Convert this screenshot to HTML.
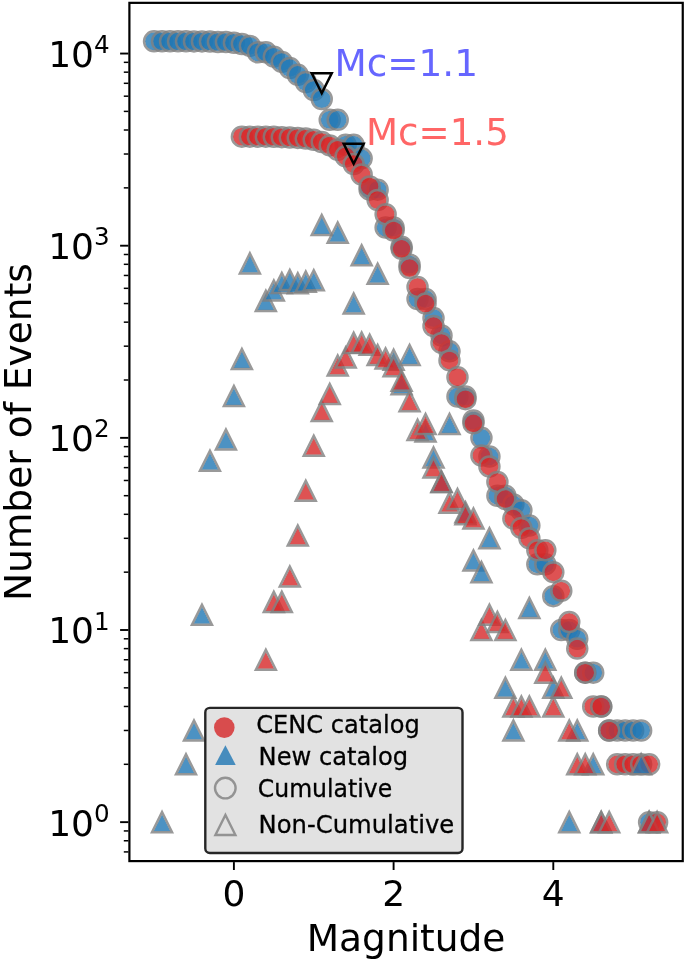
<!DOCTYPE html>
<html lang="en">
<head>
<meta charset="utf-8">
<title>Number of Events vs Magnitude</title>
<style>
html,body{margin:0;padding:0;background:#fff;}
svg{display:block;}
text{font-family:'DejaVu Sans', 'Liberation Sans', sans-serif;}
.lt{stroke:#000;stroke-width:0.3px;}
.b{fill:#1f77b4;fill-opacity:0.8;}
.r{fill:#d62728;fill-opacity:0.8;}
.e{fill:none;stroke:#808080;stroke-opacity:0.8;stroke-width:2.5px;stroke-linejoin:miter;}
</style>
</head>
<body>
<svg width="685" height="961" viewBox="0 0 685 961">
<rect width="685" height="961" fill="#fff"/>
<g id="markers">
<g id="new-cumulative">
<circle class="b" cx="154.05" cy="41.36" r="9.00"/><circle class="e" cx="154.05" cy="41.36" r="10.0"/>
<circle class="b" cx="162.04" cy="41.36" r="9.00"/><circle class="e" cx="162.04" cy="41.36" r="10.0"/>
<circle class="b" cx="170.02" cy="41.37" r="9.00"/><circle class="e" cx="170.02" cy="41.37" r="10.0"/>
<circle class="b" cx="178.00" cy="41.37" r="9.00"/><circle class="e" cx="178.00" cy="41.37" r="10.0"/>
<circle class="b" cx="185.99" cy="41.37" r="9.00"/><circle class="e" cx="185.99" cy="41.37" r="10.0"/>
<circle class="b" cx="193.98" cy="41.38" r="9.00"/><circle class="e" cx="193.98" cy="41.38" r="10.0"/>
<circle class="b" cx="201.96" cy="41.40" r="9.00"/><circle class="e" cx="201.96" cy="41.40" r="10.0"/>
<circle class="b" cx="209.94" cy="41.49" r="9.00"/><circle class="e" cx="209.94" cy="41.49" r="10.0"/>
<circle class="b" cx="217.93" cy="42.04" r="9.00"/><circle class="e" cx="217.93" cy="42.04" r="10.0"/>
<circle class="b" cx="225.92" cy="42.04" r="9.00"/><circle class="e" cx="225.92" cy="42.04" r="10.0"/>
<circle class="b" cx="233.90" cy="42.75" r="9.00"/><circle class="e" cx="233.90" cy="42.75" r="10.0"/>
<circle class="b" cx="241.88" cy="43.97" r="9.00"/><circle class="e" cx="241.88" cy="43.97" r="10.0"/>
<circle class="b" cx="249.87" cy="45.91" r="9.00"/><circle class="e" cx="249.87" cy="45.91" r="10.0"/>
<circle class="b" cx="257.86" cy="52.31" r="9.00"/><circle class="e" cx="257.86" cy="52.31" r="10.0"/>
<circle class="b" cx="265.84" cy="52.31" r="9.00"/><circle class="e" cx="265.84" cy="52.31" r="10.0"/>
<circle class="b" cx="273.82" cy="56.66" r="9.00"/><circle class="e" cx="273.82" cy="56.66" r="10.0"/>
<circle class="b" cx="281.81" cy="61.89" r="9.00"/><circle class="e" cx="281.81" cy="61.89" r="10.0"/>
<circle class="b" cx="289.80" cy="68.01" r="9.00"/><circle class="e" cx="289.80" cy="68.01" r="10.0"/>
<circle class="b" cx="297.78" cy="74.85" r="9.00"/><circle class="e" cx="297.78" cy="74.85" r="10.0"/>
<circle class="b" cx="305.76" cy="82.01" r="9.00"/><circle class="e" cx="305.76" cy="82.01" r="10.0"/>
<circle class="b" cx="313.75" cy="90.01" r="9.00"/><circle class="e" cx="313.75" cy="90.01" r="10.0"/>
<circle class="b" cx="321.74" cy="99.02" r="9.00"/><circle class="e" cx="321.74" cy="99.02" r="10.0"/>
<circle class="b" cx="329.72" cy="119.85" r="9.00"/><circle class="e" cx="329.72" cy="119.85" r="10.0"/>
<circle class="b" cx="337.70" cy="119.85" r="9.00"/><circle class="e" cx="337.70" cy="119.85" r="10.0"/>
<circle class="b" cx="345.69" cy="144.84" r="9.00"/><circle class="e" cx="345.69" cy="144.84" r="10.0"/>
<circle class="b" cx="353.68" cy="144.84" r="9.00"/><circle class="e" cx="353.68" cy="144.84" r="10.0"/>
<circle class="b" cx="361.66" cy="158.33" r="9.00"/><circle class="e" cx="361.66" cy="158.33" r="10.0"/>
<circle class="b" cx="369.64" cy="189.63" r="9.00"/><circle class="e" cx="369.64" cy="189.63" r="10.0"/>
<circle class="b" cx="377.63" cy="189.63" r="9.00"/><circle class="e" cx="377.63" cy="189.63" r="10.0"/>
<circle class="b" cx="385.62" cy="227.55" r="9.00"/><circle class="e" cx="385.62" cy="227.55" r="10.0"/>
<circle class="b" cx="393.60" cy="227.55" r="9.00"/><circle class="e" cx="393.60" cy="227.55" r="10.0"/>
<circle class="b" cx="401.59" cy="246.71" r="9.00"/><circle class="e" cx="401.59" cy="246.71" r="10.0"/>
<circle class="b" cx="409.57" cy="264.53" r="9.00"/><circle class="e" cx="409.57" cy="264.53" r="10.0"/>
<circle class="b" cx="417.55" cy="299.00" r="9.00"/><circle class="e" cx="417.55" cy="299.00" r="10.0"/>
<circle class="b" cx="425.54" cy="299.00" r="9.00"/><circle class="e" cx="425.54" cy="299.00" r="10.0"/>
<circle class="b" cx="433.52" cy="318.09" r="9.00"/><circle class="e" cx="433.52" cy="318.09" r="10.0"/>
<circle class="b" cx="441.51" cy="335.48" r="9.00"/><circle class="e" cx="441.51" cy="335.48" r="10.0"/>
<circle class="b" cx="449.50" cy="351.33" r="9.00"/><circle class="e" cx="449.50" cy="351.33" r="10.0"/>
<circle class="b" cx="457.48" cy="396.57" r="9.00"/><circle class="e" cx="457.48" cy="396.57" r="10.0"/>
<circle class="b" cx="465.46" cy="396.57" r="9.00"/><circle class="e" cx="465.46" cy="396.57" r="10.0"/>
<circle class="b" cx="473.45" cy="420.57" r="9.00"/><circle class="e" cx="473.45" cy="420.57" r="10.0"/>
<circle class="b" cx="481.44" cy="437.85" r="9.00"/><circle class="e" cx="481.44" cy="437.85" r="10.0"/>
<circle class="b" cx="489.42" cy="456.47" r="9.00"/><circle class="e" cx="489.42" cy="456.47" r="10.0"/>
<circle class="b" cx="497.40" cy="495.69" r="9.00"/><circle class="e" cx="497.40" cy="495.69" r="10.0"/>
<circle class="b" cx="505.39" cy="495.69" r="9.00"/><circle class="e" cx="505.39" cy="495.69" r="10.0"/>
<circle class="b" cx="513.38" cy="504.49" r="9.00"/><circle class="e" cx="513.38" cy="504.49" r="10.0"/>
<circle class="b" cx="521.36" cy="510.24" r="9.00"/><circle class="e" cx="521.36" cy="510.24" r="10.0"/>
<circle class="b" cx="529.35" cy="525.46" r="9.00"/><circle class="e" cx="529.35" cy="525.46" r="10.0"/>
<circle class="b" cx="537.33" cy="564.20" r="9.00"/><circle class="e" cx="537.33" cy="564.20" r="10.0"/>
<circle class="b" cx="545.31" cy="564.20" r="9.00"/><circle class="e" cx="545.31" cy="564.20" r="10.0"/>
<circle class="b" cx="553.30" cy="596.16" r="9.00"/><circle class="e" cx="553.30" cy="596.16" r="10.0"/>
<circle class="b" cx="561.28" cy="630.00" r="9.00"/><circle class="e" cx="561.28" cy="630.00" r="10.0"/>
<circle class="b" cx="569.27" cy="630.00" r="9.00"/><circle class="e" cx="569.27" cy="630.00" r="10.0"/>
<circle class="b" cx="577.25" cy="638.79" r="9.00"/><circle class="e" cx="577.25" cy="638.79" r="10.0"/>
<circle class="b" cx="585.24" cy="672.63" r="9.00"/><circle class="e" cx="585.24" cy="672.63" r="10.0"/>
<circle class="b" cx="593.23" cy="672.63" r="9.00"/><circle class="e" cx="593.23" cy="672.63" r="10.0"/>
<circle class="b" cx="601.21" cy="706.46" r="9.00"/><circle class="e" cx="601.21" cy="706.46" r="10.0"/>
<circle class="b" cx="609.19" cy="730.47" r="9.00"/><circle class="e" cx="609.19" cy="730.47" r="10.0"/>
<circle class="b" cx="617.18" cy="730.47" r="9.00"/><circle class="e" cx="617.18" cy="730.47" r="10.0"/>
<circle class="b" cx="625.16" cy="730.47" r="9.00"/><circle class="e" cx="625.16" cy="730.47" r="10.0"/>
<circle class="b" cx="633.15" cy="730.47" r="9.00"/><circle class="e" cx="633.15" cy="730.47" r="10.0"/>
<circle class="b" cx="641.13" cy="730.47" r="9.00"/><circle class="e" cx="641.13" cy="730.47" r="10.0"/>
<circle class="b" cx="649.12" cy="822.15" r="9.00"/><circle class="e" cx="649.12" cy="822.15" r="10.0"/>
</g>
<g id="cenc-cumulative">
<circle class="r" cx="241.88" cy="136.66" r="9.00"/><circle class="e" cx="241.88" cy="136.66" r="10.0"/>
<circle class="r" cx="249.87" cy="136.66" r="9.00"/><circle class="e" cx="249.87" cy="136.66" r="10.0"/>
<circle class="r" cx="257.86" cy="136.66" r="9.00"/><circle class="e" cx="257.86" cy="136.66" r="10.0"/>
<circle class="r" cx="265.84" cy="136.66" r="9.00"/><circle class="e" cx="265.84" cy="136.66" r="10.0"/>
<circle class="r" cx="273.82" cy="136.81" r="9.00"/><circle class="e" cx="273.82" cy="136.81" r="10.0"/>
<circle class="r" cx="281.81" cy="137.13" r="9.00"/><circle class="e" cx="281.81" cy="137.13" r="10.0"/>
<circle class="r" cx="289.80" cy="137.45" r="9.00"/><circle class="e" cx="289.80" cy="137.45" r="10.0"/>
<circle class="r" cx="297.78" cy="137.88" r="9.00"/><circle class="e" cx="297.78" cy="137.88" r="10.0"/>
<circle class="r" cx="305.76" cy="138.60" r="9.00"/><circle class="e" cx="305.76" cy="138.60" r="10.0"/>
<circle class="r" cx="313.75" cy="139.83" r="9.00"/><circle class="e" cx="313.75" cy="139.83" r="10.0"/>
<circle class="r" cx="321.74" cy="142.00" r="9.00"/><circle class="e" cx="321.74" cy="142.00" r="10.0"/>
<circle class="r" cx="329.72" cy="145.39" r="9.00"/><circle class="e" cx="329.72" cy="145.39" r="10.0"/>
<circle class="r" cx="337.70" cy="149.74" r="9.00"/><circle class="e" cx="337.70" cy="149.74" r="10.0"/>
<circle class="r" cx="345.69" cy="156.28" r="9.00"/><circle class="e" cx="345.69" cy="156.28" r="10.0"/>
<circle class="r" cx="353.68" cy="164.12" r="9.00"/><circle class="e" cx="353.68" cy="164.12" r="10.0"/>
<circle class="r" cx="361.66" cy="174.54" r="9.00"/><circle class="e" cx="361.66" cy="174.54" r="10.0"/>
<circle class="r" cx="369.64" cy="186.49" r="9.00"/><circle class="e" cx="369.64" cy="186.49" r="10.0"/>
<circle class="r" cx="377.63" cy="200.06" r="9.00"/><circle class="e" cx="377.63" cy="200.06" r="10.0"/>
<circle class="r" cx="385.62" cy="214.23" r="9.00"/><circle class="e" cx="385.62" cy="214.23" r="10.0"/>
<circle class="r" cx="393.60" cy="230.55" r="9.00"/><circle class="e" cx="393.60" cy="230.55" r="10.0"/>
<circle class="r" cx="401.59" cy="248.85" r="9.00"/><circle class="e" cx="401.59" cy="248.85" r="10.0"/>
<circle class="r" cx="409.57" cy="268.05" r="9.00"/><circle class="e" cx="409.57" cy="268.05" r="10.0"/>
<circle class="r" cx="417.55" cy="286.95" r="9.00"/><circle class="e" cx="417.55" cy="286.95" r="10.0"/>
<circle class="r" cx="425.54" cy="303.54" r="9.00"/><circle class="e" cx="425.54" cy="303.54" r="10.0"/>
<circle class="r" cx="433.52" cy="326.01" r="9.00"/><circle class="e" cx="433.52" cy="326.01" r="10.0"/>
<circle class="r" cx="441.51" cy="342.90" r="9.00"/><circle class="e" cx="441.51" cy="342.90" r="10.0"/>
<circle class="r" cx="449.50" cy="360.39" r="9.00"/><circle class="e" cx="449.50" cy="360.39" r="10.0"/>
<circle class="r" cx="457.48" cy="377.14" r="9.00"/><circle class="e" cx="457.48" cy="377.14" r="10.0"/>
<circle class="r" cx="465.46" cy="399.15" r="9.00"/><circle class="e" cx="465.46" cy="399.15" r="10.0"/>
<circle class="r" cx="473.45" cy="423.33" r="9.00"/><circle class="e" cx="473.45" cy="423.33" r="10.0"/>
<circle class="r" cx="481.44" cy="455.43" r="9.00"/><circle class="e" cx="481.44" cy="455.43" r="10.0"/>
<circle class="r" cx="489.42" cy="466.43" r="9.00"/><circle class="e" cx="489.42" cy="466.43" r="10.0"/>
<circle class="r" cx="497.40" cy="481.88" r="9.00"/><circle class="e" cx="497.40" cy="481.88" r="10.0"/>
<circle class="r" cx="505.39" cy="499.10" r="9.00"/><circle class="e" cx="505.39" cy="499.10" r="10.0"/>
<circle class="r" cx="513.38" cy="518.59" r="9.00"/><circle class="e" cx="513.38" cy="518.59" r="10.0"/>
<circle class="r" cx="521.36" cy="527.88" r="9.00"/><circle class="e" cx="521.36" cy="527.88" r="10.0"/>
<circle class="r" cx="529.35" cy="538.32" r="9.00"/><circle class="e" cx="529.35" cy="538.32" r="10.0"/>
<circle class="r" cx="537.33" cy="550.26" r="9.00"/><circle class="e" cx="537.33" cy="550.26" r="10.0"/>
<circle class="r" cx="545.31" cy="550.26" r="9.00"/><circle class="e" cx="545.31" cy="550.26" r="10.0"/>
<circle class="r" cx="553.30" cy="572.16" r="9.00"/><circle class="e" cx="553.30" cy="572.16" r="10.0"/>
<circle class="r" cx="561.28" cy="590.78" r="9.00"/><circle class="e" cx="561.28" cy="590.78" r="10.0"/>
<circle class="r" cx="569.27" cy="622.05" r="9.00"/><circle class="e" cx="569.27" cy="622.05" r="10.0"/>
<circle class="r" cx="577.25" cy="648.62" r="9.00"/><circle class="e" cx="577.25" cy="648.62" r="10.0"/>
<circle class="r" cx="585.24" cy="672.63" r="9.00"/><circle class="e" cx="585.24" cy="672.63" r="10.0"/>
<circle class="r" cx="593.23" cy="706.46" r="9.00"/><circle class="e" cx="593.23" cy="706.46" r="10.0"/>
<circle class="r" cx="601.21" cy="706.46" r="9.00"/><circle class="e" cx="601.21" cy="706.46" r="10.0"/>
<circle class="r" cx="609.19" cy="730.47" r="9.00"/><circle class="e" cx="609.19" cy="730.47" r="10.0"/>
<circle class="r" cx="617.18" cy="764.31" r="9.00"/><circle class="e" cx="617.18" cy="764.31" r="10.0"/>
<circle class="r" cx="625.16" cy="764.31" r="9.00"/><circle class="e" cx="625.16" cy="764.31" r="10.0"/>
<circle class="r" cx="633.15" cy="764.31" r="9.00"/><circle class="e" cx="633.15" cy="764.31" r="10.0"/>
<circle class="r" cx="641.13" cy="764.31" r="9.00"/><circle class="e" cx="641.13" cy="764.31" r="10.0"/>
<circle class="r" cx="649.12" cy="764.31" r="9.00"/><circle class="e" cx="649.12" cy="764.31" r="10.0"/>
<circle class="r" cx="657.11" cy="822.15" r="9.00"/><circle class="e" cx="657.11" cy="822.15" r="10.0"/>
</g>
<g id="new-noncumulative">
<path class="b" d="M162.04 814.39L153.65 831.15L170.42 831.15Z"/><path class="e" d="M162.04 812.15L152.04 832.15L172.04 832.15Z"/>
<path class="b" d="M185.99 756.54L177.61 773.31L194.37 773.31Z"/><path class="e" d="M185.99 754.31L175.99 774.31L195.99 774.31Z"/>
<path class="b" d="M193.98 722.71L185.59 739.47L202.36 739.47Z"/><path class="e" d="M193.98 720.47L183.98 740.47L203.98 740.47Z"/>
<path class="b" d="M201.96 607.02L193.58 623.79L210.34 623.79Z"/><path class="e" d="M201.96 604.79L191.96 624.79L211.96 624.79Z"/>
<path class="b" d="M209.94 452.99L201.56 469.75L218.33 469.75Z"/><path class="e" d="M209.94 450.75L199.94 470.75L219.94 470.75Z"/>
<path class="b" d="M225.92 431.77L217.53 448.54L234.30 448.54Z"/><path class="e" d="M225.92 429.54L215.92 449.54L235.92 449.54Z"/>
<path class="b" d="M233.90 388.30L225.52 405.06L242.28 405.06Z"/><path class="e" d="M233.90 386.06L223.90 406.06L243.90 406.06Z"/>
<path class="b" d="M241.88 351.32L233.50 368.08L250.27 368.08Z"/><path class="e" d="M241.88 349.08L231.88 369.08L251.88 369.08Z"/>
<path class="b" d="M249.87 255.62L241.49 272.39L258.25 272.39Z"/><path class="e" d="M249.87 253.39L239.87 273.39L259.87 273.39Z"/>
<path class="b" d="M265.84 293.15L257.46 309.91L274.22 309.91Z"/><path class="e" d="M265.84 290.91L255.84 310.91L275.84 310.91Z"/>
<path class="b" d="M273.82 282.68L265.44 299.44L282.21 299.44Z"/><path class="e" d="M273.82 280.44L263.82 300.44L283.82 300.44Z"/>
<path class="b" d="M281.81 275.18L273.43 291.94L290.19 291.94Z"/><path class="e" d="M281.81 272.94L271.81 292.94L291.81 292.94Z"/>
<path class="b" d="M289.80 272.36L281.41 289.12L298.18 289.12Z"/><path class="e" d="M289.80 270.12L279.80 290.12L299.80 290.12Z"/>
<path class="b" d="M297.78 275.57L289.40 292.33L306.16 292.33Z"/><path class="e" d="M297.78 273.33L287.78 293.33L307.78 293.33Z"/>
<path class="b" d="M305.76 273.88L297.38 290.65L314.15 290.65Z"/><path class="e" d="M305.76 271.65L295.76 291.65L315.76 291.65Z"/>
<path class="b" d="M313.75 272.48L305.37 289.25L322.13 289.25Z"/><path class="e" d="M313.75 270.25L303.75 290.25L323.75 290.25Z"/>
<path class="b" d="M321.74 217.27L313.35 234.03L330.12 234.03Z"/><path class="e" d="M321.74 215.03L311.74 235.03L331.74 235.03Z"/>
<path class="b" d="M337.70 224.91L329.32 241.67L346.09 241.67Z"/><path class="e" d="M337.70 222.67L327.70 242.67L347.70 242.67Z"/>
<path class="b" d="M353.68 295.78L345.29 312.54L362.06 312.54Z"/><path class="e" d="M353.68 293.54L343.68 313.54L363.68 313.54Z"/>
<path class="b" d="M361.66 247.57L353.28 264.33L370.04 264.33Z"/><path class="e" d="M361.66 245.33L351.66 265.33L371.66 265.33Z"/>
<path class="b" d="M377.63 265.93L369.25 282.70L386.01 282.70Z"/><path class="e" d="M377.63 263.70L367.63 283.70L387.63 283.70Z"/>
<path class="b" d="M393.60 351.97L385.22 368.73L401.98 368.73Z"/><path class="e" d="M393.60 349.73L383.60 369.73L403.60 369.73Z"/>
<path class="b" d="M401.59 376.52L393.20 393.29L409.97 393.29Z"/><path class="e" d="M401.59 374.29L391.59 394.29L411.59 394.29Z"/>
<path class="b" d="M409.57 347.20L401.19 363.96L417.95 363.96Z"/><path class="e" d="M409.57 344.96L399.57 364.96L419.57 364.96Z"/>
<path class="b" d="M425.54 423.66L417.16 440.43L433.92 440.43Z"/><path class="e" d="M425.54 421.43L415.54 441.43L435.54 441.43Z"/>
<path class="b" d="M433.52 449.76L425.14 466.52L441.91 466.52Z"/><path class="e" d="M433.52 447.52L423.52 467.52L443.52 467.52Z"/>
<path class="b" d="M441.51 474.12L433.13 490.88L449.89 490.88Z"/><path class="e" d="M441.51 471.88L431.51 491.88L451.51 491.88Z"/>
<path class="b" d="M449.50 416.27L441.11 433.04L457.88 433.04Z"/><path class="e" d="M449.50 414.04L439.50 434.04L459.50 434.04Z"/>
<path class="b" d="M465.46 504.49L457.08 521.25L473.85 521.25Z"/><path class="e" d="M465.46 502.25L455.46 522.25L475.46 522.25Z"/>
<path class="b" d="M473.45 552.73L465.07 569.49L481.83 569.49Z"/><path class="e" d="M473.45 550.49L463.45 570.49L483.45 570.49Z"/>
<path class="b" d="M481.44 564.39L473.05 581.16L489.82 581.16Z"/><path class="e" d="M481.44 562.16L471.44 582.16L491.44 582.16Z"/>
<path class="b" d="M489.42 530.56L481.04 547.32L497.80 547.32Z"/><path class="e" d="M489.42 528.32L479.42 548.32L499.42 548.32Z"/>
<path class="b" d="M505.39 680.08L497.01 696.84L513.77 696.84Z"/><path class="e" d="M505.39 677.84L495.39 697.84L515.39 697.84Z"/>
<path class="b" d="M513.38 722.71L504.99 739.47L521.76 739.47Z"/><path class="e" d="M513.38 720.47L503.38 740.47L523.38 740.47Z"/>
<path class="b" d="M521.36 652.00L512.98 668.76L529.74 668.76Z"/><path class="e" d="M521.36 649.76L511.36 669.76L531.36 669.76Z"/>
<path class="b" d="M529.35 600.34L520.96 617.11L537.73 617.11Z"/><path class="e" d="M529.35 598.11L519.35 618.11L539.35 618.11Z"/>
<path class="b" d="M545.31 652.00L536.93 668.76L553.70 668.76Z"/><path class="e" d="M545.31 649.76L535.31 669.76L555.31 669.76Z"/>
<path class="b" d="M553.30 680.08L544.92 696.84L561.68 696.84Z"/><path class="e" d="M553.30 677.84L543.30 697.84L563.30 697.84Z"/>
<path class="b" d="M569.27 814.39L560.89 831.15L577.65 831.15Z"/><path class="e" d="M569.27 812.15L559.27 832.15L579.27 832.15Z"/>
<path class="b" d="M577.25 722.71L568.87 739.47L585.64 739.47Z"/><path class="e" d="M577.25 720.47L567.25 740.47L587.25 740.47Z"/>
<path class="b" d="M593.23 756.54L584.84 773.31L601.61 773.31Z"/><path class="e" d="M593.23 754.31L583.23 774.31L603.23 774.31Z"/>
<path class="b" d="M601.21 814.39L592.83 831.15L609.59 831.15Z"/><path class="e" d="M601.21 812.15L591.21 832.15L611.21 832.15Z"/>
<path class="b" d="M641.13 756.54L632.75 773.31L649.52 773.31Z"/><path class="e" d="M641.13 754.31L631.13 774.31L651.13 774.31Z"/>
<path class="b" d="M649.12 814.39L640.74 831.15L657.50 831.15Z"/><path class="e" d="M649.12 812.15L639.12 832.15L659.12 832.15Z"/>
</g>
<g id="cenc-noncumulative">
<path class="r" d="M265.84 652.00L257.46 668.76L274.22 668.76Z"/><path class="e" d="M265.84 649.76L255.84 669.76L275.84 669.76Z"/>
<path class="r" d="M273.82 594.16L265.44 610.92L282.21 610.92Z"/><path class="e" d="M273.82 591.92L263.82 611.92L283.82 611.92Z"/>
<path class="r" d="M281.81 594.16L273.43 610.92L290.19 610.92Z"/><path class="e" d="M281.81 591.92L271.81 611.92L291.81 611.92Z"/>
<path class="r" d="M289.80 568.67L281.41 585.44L298.18 585.44Z"/><path class="e" d="M289.80 566.44L279.80 586.44L299.80 586.44Z"/>
<path class="r" d="M297.78 527.82L289.40 544.58L306.16 544.58Z"/><path class="e" d="M297.78 525.58L287.78 545.58L307.78 545.58Z"/>
<path class="r" d="M305.76 483.07L297.38 499.83L314.15 499.83Z"/><path class="e" d="M305.76 480.83L295.76 500.83L315.76 500.83Z"/>
<path class="r" d="M313.75 437.96L305.37 454.72L322.13 454.72Z"/><path class="e" d="M313.75 435.72L303.75 455.72L323.75 455.72Z"/>
<path class="r" d="M321.74 403.21L313.35 419.97L330.12 419.97Z"/><path class="e" d="M321.74 400.97L311.74 420.97L331.74 420.97Z"/>
<path class="r" d="M329.72 386.30L321.34 403.06L338.10 403.06Z"/><path class="e" d="M329.72 384.06L319.72 404.06L339.72 404.06Z"/>
<path class="r" d="M337.70 357.73L329.32 374.49L346.09 374.49Z"/><path class="e" d="M337.70 355.49L327.70 375.49L347.70 375.49Z"/>
<path class="r" d="M345.69 349.71L337.31 366.47L354.07 366.47Z"/><path class="e" d="M345.69 347.47L335.69 367.47L355.69 367.47Z"/>
<path class="r" d="M353.68 335.13L345.29 351.90L362.06 351.90Z"/><path class="e" d="M353.68 332.90L343.68 352.90L363.68 352.90Z"/>
<path class="r" d="M361.66 334.87L353.28 351.63L370.04 351.63Z"/><path class="e" d="M361.66 332.63L351.66 352.63L371.66 352.63Z"/>
<path class="r" d="M369.64 337.03L361.26 353.79L378.03 353.79Z"/><path class="e" d="M369.64 334.79L359.64 354.79L379.64 354.79Z"/>
<path class="r" d="M377.63 347.20L369.25 363.96L386.01 363.96Z"/><path class="e" d="M377.63 344.96L367.63 364.96L387.63 364.96Z"/>
<path class="r" d="M385.62 350.67L377.23 367.43L394.00 367.43Z"/><path class="e" d="M385.62 348.43L375.62 368.43L395.62 368.43Z"/>
<path class="r" d="M393.60 358.43L385.22 375.19L401.98 375.19Z"/><path class="e" d="M393.60 356.19L383.60 376.19L403.60 376.19Z"/>
<path class="r" d="M401.59 373.08L393.20 389.85L409.97 389.85Z"/><path class="e" d="M401.59 370.85L391.59 390.85L411.59 390.85Z"/>
<path class="r" d="M409.57 393.51L401.19 410.28L417.95 410.28Z"/><path class="e" d="M409.57 391.28L399.57 411.28L419.57 411.28Z"/>
<path class="r" d="M417.55 422.13L409.17 438.90L425.94 438.90Z"/><path class="e" d="M417.55 419.90L407.55 439.90L427.55 439.90Z"/>
<path class="r" d="M425.54 416.27L417.16 433.04L433.92 433.04Z"/><path class="e" d="M425.54 414.04L415.54 434.04L435.54 434.04Z"/>
<path class="r" d="M433.52 459.85L425.14 476.61L441.91 476.61Z"/><path class="e" d="M433.52 457.61L423.52 477.61L443.52 477.61Z"/>
<path class="r" d="M441.51 474.12L433.13 490.88L449.89 490.88Z"/><path class="e" d="M441.51 471.88L431.51 491.88L451.51 491.88Z"/>
<path class="r" d="M449.50 494.89L441.11 511.65L457.88 511.65Z"/><path class="e" d="M449.50 492.65L439.50 512.65L459.50 512.65Z"/>
<path class="r" d="M457.48 491.34L449.10 508.10L465.86 508.10Z"/><path class="e" d="M457.48 489.10L447.48 509.10L467.48 509.10Z"/>
<path class="r" d="M465.46 506.55L457.08 523.31L473.85 523.31Z"/><path class="e" d="M465.46 504.31L455.46 524.31L475.46 524.31Z"/>
<path class="r" d="M473.45 510.83L465.07 527.59L481.83 527.59Z"/><path class="e" d="M473.45 508.59L463.45 528.59L483.45 528.59Z"/>
<path class="r" d="M481.44 622.24L473.05 639.00L489.82 639.00Z"/><path class="e" d="M481.44 620.00L471.44 640.00L491.44 640.00Z"/>
<path class="r" d="M489.42 607.02L481.04 623.79L497.80 623.79Z"/><path class="e" d="M489.42 604.79L479.42 624.79L499.42 624.79Z"/>
<path class="r" d="M497.40 614.28L489.02 631.05L505.79 631.05Z"/><path class="e" d="M497.40 612.05L487.40 632.05L507.40 632.05Z"/>
<path class="r" d="M505.39 622.24L497.01 639.00L513.77 639.00Z"/><path class="e" d="M505.39 620.00L495.39 640.00L515.39 640.00Z"/>
<path class="r" d="M513.38 698.70L504.99 715.46L521.76 715.46Z"/><path class="e" d="M513.38 696.46L503.38 716.46L523.38 716.46Z"/>
<path class="r" d="M521.36 698.70L512.98 715.46L529.74 715.46Z"/><path class="e" d="M521.36 696.46L511.36 716.46L531.36 716.46Z"/>
<path class="r" d="M529.35 698.70L520.96 715.46L537.73 715.46Z"/><path class="e" d="M529.35 696.46L519.35 716.46L539.35 716.46Z"/>
<path class="r" d="M545.31 664.86L536.93 681.63L553.70 681.63Z"/><path class="e" d="M545.31 662.63L535.31 682.63L555.31 682.63Z"/>
<path class="r" d="M553.30 698.70L544.92 715.46L561.68 715.46Z"/><path class="e" d="M553.30 696.46L543.30 716.46L563.30 716.46Z"/>
<path class="r" d="M561.28 680.08L552.90 696.84L569.67 696.84Z"/><path class="e" d="M561.28 677.84L551.28 697.84L571.28 697.84Z"/>
<path class="r" d="M569.27 722.71L560.89 739.47L577.65 739.47Z"/><path class="e" d="M569.27 720.47L559.27 740.47L579.27 740.47Z"/>
<path class="r" d="M577.25 756.54L568.87 773.31L585.64 773.31Z"/><path class="e" d="M577.25 754.31L567.25 774.31L587.25 774.31Z"/>
<path class="r" d="M585.24 756.54L576.86 773.31L593.62 773.31Z"/><path class="e" d="M585.24 754.31L575.24 774.31L595.24 774.31Z"/>
<path class="r" d="M601.21 814.39L592.83 831.15L609.59 831.15Z"/><path class="e" d="M601.21 812.15L591.21 832.15L611.21 832.15Z"/>
<path class="r" d="M609.19 814.39L600.81 831.15L617.58 831.15Z"/><path class="e" d="M609.19 812.15L599.19 832.15L619.19 832.15Z"/>
<path class="r" d="M649.12 814.39L640.74 831.15L657.50 831.15Z"/><path class="e" d="M649.12 812.15L639.12 832.15L659.12 832.15Z"/>
<path class="r" d="M657.11 814.39L648.72 831.15L665.49 831.15Z"/><path class="e" d="M657.11 812.15L647.11 832.15L667.11 832.15Z"/>
</g>
<path d="M321.74 93.20L311.74 73.20L331.74 73.20Z" fill="none" stroke="#000" stroke-width="2.5" stroke-linejoin="miter"/>
<path d="M353.68 163.70L343.68 143.70L363.68 143.70Z" fill="none" stroke="#000" stroke-width="2.5" stroke-linejoin="miter"/>
</g>
<g id="axes">
<rect x="129.4" y="2.85" width="553.35" height="858.25" fill="none" stroke="#000" stroke-width="2.2"/>
<line x1="120.10" x2="128.40" y1="822.15" y2="822.15" stroke="#000" stroke-width="1.9"/>
<line x1="120.10" x2="128.40" y1="630.00" y2="630.00" stroke="#000" stroke-width="1.9"/>
<line x1="120.10" x2="128.40" y1="437.85" y2="437.85" stroke="#000" stroke-width="1.9"/>
<line x1="120.10" x2="128.40" y1="245.70" y2="245.70" stroke="#000" stroke-width="1.9"/>
<line x1="120.10" x2="128.40" y1="53.55" y2="53.55" stroke="#000" stroke-width="1.9"/>
<line x1="123.80" x2="128.40" y1="851.91" y2="851.91" stroke="#000" stroke-width="1.5"/>
<line x1="123.80" x2="128.40" y1="840.77" y2="840.77" stroke="#000" stroke-width="1.5"/>
<line x1="123.80" x2="128.40" y1="830.94" y2="830.94" stroke="#000" stroke-width="1.5"/>
<line x1="123.80" x2="128.40" y1="764.31" y2="764.31" stroke="#000" stroke-width="1.5"/>
<line x1="123.80" x2="128.40" y1="730.47" y2="730.47" stroke="#000" stroke-width="1.5"/>
<line x1="123.80" x2="128.40" y1="706.46" y2="706.46" stroke="#000" stroke-width="1.5"/>
<line x1="123.80" x2="128.40" y1="687.84" y2="687.84" stroke="#000" stroke-width="1.5"/>
<line x1="123.80" x2="128.40" y1="672.63" y2="672.63" stroke="#000" stroke-width="1.5"/>
<line x1="123.80" x2="128.40" y1="659.76" y2="659.76" stroke="#000" stroke-width="1.5"/>
<line x1="123.80" x2="128.40" y1="648.62" y2="648.62" stroke="#000" stroke-width="1.5"/>
<line x1="123.80" x2="128.40" y1="638.79" y2="638.79" stroke="#000" stroke-width="1.5"/>
<line x1="123.80" x2="128.40" y1="572.16" y2="572.16" stroke="#000" stroke-width="1.5"/>
<line x1="123.80" x2="128.40" y1="538.32" y2="538.32" stroke="#000" stroke-width="1.5"/>
<line x1="123.80" x2="128.40" y1="514.31" y2="514.31" stroke="#000" stroke-width="1.5"/>
<line x1="123.80" x2="128.40" y1="495.69" y2="495.69" stroke="#000" stroke-width="1.5"/>
<line x1="123.80" x2="128.40" y1="480.48" y2="480.48" stroke="#000" stroke-width="1.5"/>
<line x1="123.80" x2="128.40" y1="467.61" y2="467.61" stroke="#000" stroke-width="1.5"/>
<line x1="123.80" x2="128.40" y1="456.47" y2="456.47" stroke="#000" stroke-width="1.5"/>
<line x1="123.80" x2="128.40" y1="446.64" y2="446.64" stroke="#000" stroke-width="1.5"/>
<line x1="123.80" x2="128.40" y1="380.01" y2="380.01" stroke="#000" stroke-width="1.5"/>
<line x1="123.80" x2="128.40" y1="346.17" y2="346.17" stroke="#000" stroke-width="1.5"/>
<line x1="123.80" x2="128.40" y1="322.16" y2="322.16" stroke="#000" stroke-width="1.5"/>
<line x1="123.80" x2="128.40" y1="303.54" y2="303.54" stroke="#000" stroke-width="1.5"/>
<line x1="123.80" x2="128.40" y1="288.33" y2="288.33" stroke="#000" stroke-width="1.5"/>
<line x1="123.80" x2="128.40" y1="275.46" y2="275.46" stroke="#000" stroke-width="1.5"/>
<line x1="123.80" x2="128.40" y1="264.32" y2="264.32" stroke="#000" stroke-width="1.5"/>
<line x1="123.80" x2="128.40" y1="254.49" y2="254.49" stroke="#000" stroke-width="1.5"/>
<line x1="123.80" x2="128.40" y1="187.86" y2="187.86" stroke="#000" stroke-width="1.5"/>
<line x1="123.80" x2="128.40" y1="154.02" y2="154.02" stroke="#000" stroke-width="1.5"/>
<line x1="123.80" x2="128.40" y1="130.01" y2="130.01" stroke="#000" stroke-width="1.5"/>
<line x1="123.80" x2="128.40" y1="111.39" y2="111.39" stroke="#000" stroke-width="1.5"/>
<line x1="123.80" x2="128.40" y1="96.18" y2="96.18" stroke="#000" stroke-width="1.5"/>
<line x1="123.80" x2="128.40" y1="83.31" y2="83.31" stroke="#000" stroke-width="1.5"/>
<line x1="123.80" x2="128.40" y1="72.17" y2="72.17" stroke="#000" stroke-width="1.5"/>
<line x1="123.80" x2="128.40" y1="62.34" y2="62.34" stroke="#000" stroke-width="1.5"/>
<line x1="233.90" x2="233.90" y1="862.10" y2="870.00" stroke="#000" stroke-width="1.9"/>
<line x1="393.60" x2="393.60" y1="862.10" y2="870.00" stroke="#000" stroke-width="1.9"/>
<line x1="553.30" x2="553.30" y1="862.10" y2="870.00" stroke="#000" stroke-width="1.9"/>
</g>
<g id="labels">
<text x="48.2" y="835.55" font-size="36.0">10</text>
<text x="94.0" y="821.65" font-size="24.6">0</text>
<text x="48.2" y="643.40" font-size="36.0">10</text>
<text x="94.0" y="629.50" font-size="24.6">1</text>
<text x="48.2" y="451.25" font-size="36.0">10</text>
<text x="94.0" y="437.35" font-size="24.6">2</text>
<text x="48.2" y="259.10" font-size="36.0">10</text>
<text x="94.0" y="245.20" font-size="24.6">3</text>
<text x="48.2" y="66.95" font-size="36.0">10</text>
<text x="94.0" y="53.05" font-size="24.6">4</text>
<text x="233.90" y="906.1" font-size="36.0" text-anchor="middle">0</text>
<text x="393.60" y="906.1" font-size="36.0" text-anchor="middle">2</text>
<text x="553.30" y="906.1" font-size="36.0" text-anchor="middle">4</text>
<text x="406.1" y="951.1" font-size="37.5" text-anchor="middle">Magnitude</text>
<text transform="translate(30.8 432.1) rotate(-90)" font-size="37.55" text-anchor="middle">Number of Events</text>
<text x="334.4" y="75.8" font-size="37.4" style="fill:#6666ff">Mc=1.1</text>
<text x="366.0" y="145.3" font-size="37.2" style="fill:#ff6666">Mc=1.5</text>
</g>
<g id="legend">
<rect x="205.3" y="707.9" width="257.2" height="145.1" rx="4.5" ry="4.5" fill="#e2e2e2" stroke="#262626" stroke-width="2.4"/>
<circle cx="224.3" cy="727.6" r="10.3" fill="#d62728" fill-opacity="0.8"/>
<path d="M225.4 745.2L215.1 764.9L235.7 764.9Z" fill="#1f77b4" fill-opacity="0.8"/>
<circle cx="225.3" cy="788.1" r="10.3" fill="none" stroke="#808080" stroke-opacity="0.8" stroke-width="2.4"/>
<path d="M225.4 815.0L215.4 835.0L235.4 835.0Z" fill="none" stroke="#808080" stroke-opacity="0.8" stroke-width="2.4" stroke-linejoin="miter"/>
<text class="lt" x="256.3" y="733.2" font-size="24" textLength="163.5" lengthAdjust="spacingAndGlyphs">CENC catalog</text>
<text class="lt" x="258.6" y="764.6" font-size="24" textLength="149.6" lengthAdjust="spacingAndGlyphs">New catalog</text>
<text class="lt" x="257.8" y="796.8" font-size="24" textLength="134.4" lengthAdjust="spacingAndGlyphs">Cumulative</text>
<text class="lt" x="258.6" y="832.8" font-size="24" textLength="195.6" lengthAdjust="spacingAndGlyphs">Non-Cumulative</text>
</g>
</svg>
</body>
</html>
